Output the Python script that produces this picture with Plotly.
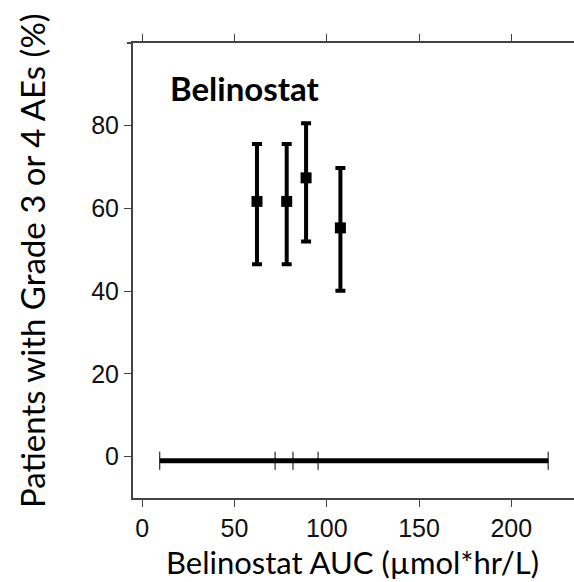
import plotly.graph_objects as go

# Data
auc = [62.2, 78.3, 88.8, 107.4]
pct = [61.7, 61.7, 67.4, 55.3]
upper = [75.6, 75.6, 80.6, 69.8]
lower = [46.5, 46.5, 52.0, 40.1]

range_x = [9.5, 220.0]
range_y = [-1.0, -1.0]
range_ticks_x = [9.5, 72.0, 81.7, 95.3, 220.0]
range_ticks_y = [-1.0, -1.0, -1.0, -1.0, -1.0]

x_ticks = [0, 50, 100, 150, 200]
y_ticks = [0, 20, 40, 60, 80]

err_plus = [u - p for u, p in zip(upper, pct)]
err_minus = [p - l for p, l in zip(pct, lower)]

W, H = 574, 582
L, R, T, B = 133, 0, 43, 84
PW, PH = W - L - R, H - T - B


def px_to_paper(px, py):
    return (px - L) / PW, (H - B - py) / PH


fig = go.Figure()

fig.add_trace(go.Scatter(
    x=range_x, y=range_y, mode="lines",
    line=dict(color="black", width=5), showlegend=False, hoverinfo="skip"))
fig.add_trace(go.Scatter(
    x=range_ticks_x, y=range_ticks_y, mode="markers",
    marker=dict(symbol="line-ns", size=13, line=dict(color="black", width=1)),
    showlegend=False, hoverinfo="skip"))

fig.add_trace(go.Scatter(
    x=auc, y=pct, mode="markers",
    marker=dict(symbol="square", size=11, color="black"),
    error_y=dict(type="data", symmetric=False, array=err_plus, arrayminus=err_minus,
                 color="black", thickness=4, width=5),
    showlegend=False))

fig.add_trace(go.Scatter(x=[None], y=[None], xaxis="x2", showlegend=False))

axis_font = dict(family="Liberation Sans, Arial", size=25, color="#111")
axcol = "#444"

bx, by = px_to_paper(168, 88)
yx, yy = px_to_paper(32, 261)
xx, xy = px_to_paper(352, 562)
sx0, sy0 = px_to_paper(127, 43)

fig.update_layout(
    width=W, height=H,
    margin=dict(l=L, r=R, t=T, b=B),
    plot_bgcolor="white", paper_bgcolor="white",
    xaxis=dict(range=[-5, 234], tickvals=x_ticks,
               showgrid=False, zeroline=False, showline=True, linecolor=axcol, linewidth=2,
               ticks="outside", ticklen=7, tickwidth=1, tickcolor=axcol,
               tickfont=axis_font),
    xaxis2=dict(range=[-5, 234], tickvals=x_ticks, overlaying="x",
                side="top", showticklabels=False, showgrid=False, zeroline=False,
                showline=True, linecolor=axcol, linewidth=2,
                ticks="outside", ticklen=7, tickwidth=1, tickcolor=axcol, matches="x"),
    yaxis=dict(range=[-10, 100], tickvals=y_ticks,
               showgrid=False, zeroline=False, showline=True, linecolor=axcol, linewidth=2,
               ticks="outside", ticklen=7, tickwidth=1, tickcolor=axcol,
               tickfont=axis_font),
    shapes=[dict(type="line", xref="paper", yref="paper", x0=sx0, x1=0, y0=1, y1=1,
                 line=dict(color=axcol, width=2))],
    annotations=[
        dict(text="<b>Belinostat</b>", x=bx, y=by, xref="paper", yref="paper",
             xanchor="left", yanchor="middle", showarrow=False,
             font=dict(family="Lato, Open Sans", size=33, color="black")),
        dict(text="Patients with Grade 3 or 4 AEs (%)", x=yx, y=yy,
             xref="paper", yref="paper", xanchor="center", yanchor="middle",
             showarrow=False, textangle=-90,
             font=dict(family="Lato, Open Sans", size=33, color="black")),
        dict(text="Belinostat AUC (µmol*hr/L)", x=xx, y=xy,
             xref="paper", yref="paper", xanchor="center", yanchor="middle",
             showarrow=False,
             font=dict(family="Lato, Open Sans", size=31, color="black")),
    ],
)

fig.write_html("out.html")
